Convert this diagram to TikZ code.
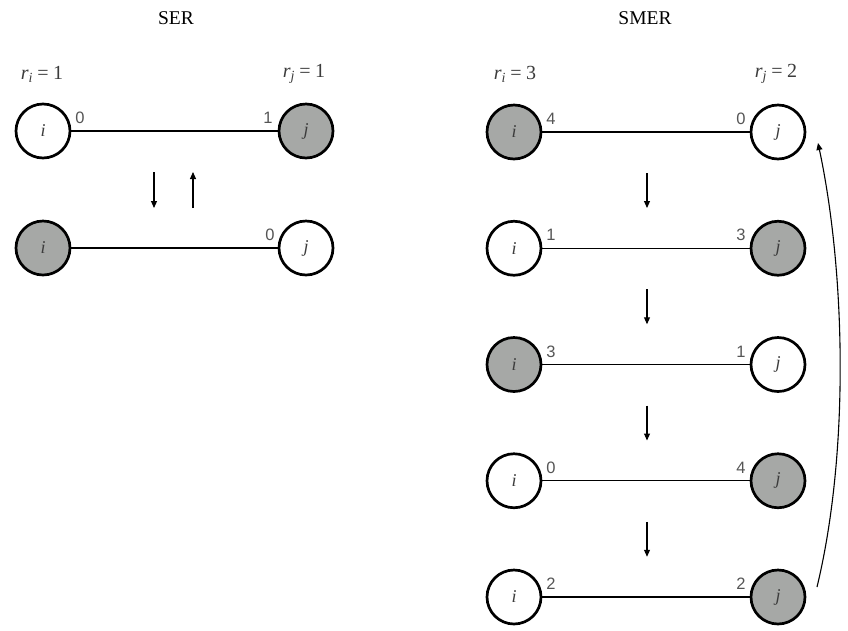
\documentclass[tikz,border=0pt]{standalone}
\usepackage{fontspec}
\setmainfont{Liberation Serif}
\newfontfamily\numfont{Liberation Sans}
\usetikzlibrary{arrows.meta}
\definecolor{nodegray}{RGB}{166,168,166}
\definecolor{numgray}{RGB}{85,85,85}
\definecolor{labgray}{RGB}{60,60,60}
\newcommand{\rlabel}[2]{{\itshape r}\textsubscript{\itshape #1}\hspace{0.22em}=\hspace{0.22em}#2}
\tikzset{
  vtx/.style={circle,draw=black,line width=2.7pt,minimum size=54pt,inner sep=0pt,fill=white,
    font=\fontsize{18}{20}\selectfont\itshape,text=labgray},
  vtxg/.style={vtx,fill=nodegray},
  edgeln/.style={line width=1.2pt},
  num/.style={font=\numfont\fontsize{16.5}{18}\selectfont,text=numgray,inner sep=0pt},
  rlab/.style={font=\fontsize{20}{22}\selectfont,text=labgray,inner sep=0pt},
  ttl/.style={font=\fontsize{19.5}{21}\selectfont,inner sep=0pt},
  flow/.style={line width=1.1pt,-{Triangle[length=7pt,width=6pt]}}
}
\begin{document}
\begin{tikzpicture}[x=1pt,y=-1pt]
\useasboundingbox (0,0) rectangle (848,630);
% titles
\node[ttl] (tser) at (176,18) {SER};
\node[ttl] (tsmer) at (645,18) {SMER};
% SER
\node[rlab] (rl1) at (42,74) {\rlabel{i}{1}};
\node[rlab] (rl2) at (304,74) {\rlabel{j}{1}};
\node[vtx] (a1) at (43,131) {i};
\node[vtxg] (b1) at (306,131) {j};
\draw[edgeln] (a1) -- (b1);
\node[num] at (80,118) {0};
\node[num] at (268,118) {1};
\node[vtxg] (a2) at (43,248) {i};
\node[vtx] (b2) at (306,248) {j};
\draw[edgeln] (a2) -- (b2);
\node[num] at (270,235) {0};
\coordinate (d1s) at (154,172); \coordinate (d1e) at (154,208);
\coordinate (u1s) at (193,208); \coordinate (u1e) at (193,172);
\draw[flow] (d1s) -- (d1e);
\draw[flow] (u1s) -- (u1e);
% SMER
\node[rlab] (rr1) at (515,74) {\rlabel{i}{3}};
\node[rlab] (rr2) at (776,74) {\rlabel{j}{2}};
\foreach \k/\si/\sj/\ni/\nj in {0/vtxg/vtx/4/0, 1/vtx/vtxg/1/3, 2/vtxg/vtx/3/1, 3/vtx/vtxg/0/4, 4/vtx/vtxg/2/2}{
  \pgfmathsetmacro{\yy}{132+116.25*\k}
  \node[\si] (ci\k) at (514,\yy) {i};
  \node[\sj] (cj\k) at (778,\yy) {j};
  \draw[edgeln] (ci\k) -- (cj\k);
  \node[num] at (551,\yy-13) {\ni};
  \node[num] at (741,\yy-13) {\nj};
}
\foreach \k in {0,1,2,3}{
  \pgfmathsetmacro{\ya}{132+116.25*\k+41}
  \pgfmathsetmacro{\yb}{132+116.25*\k+76}
  \coordinate (ds\k) at (647,\ya);
  \coordinate (de\k) at (647,\yb);
  \draw[flow] (ds\k) -- (de\k);
}
\coordinate (cs) at (817,587);
\coordinate (ce) at (818,143);
\draw[flow] (cs) .. controls (850,450) and (845,270) .. (ce);
\end{tikzpicture}
\end{document}
